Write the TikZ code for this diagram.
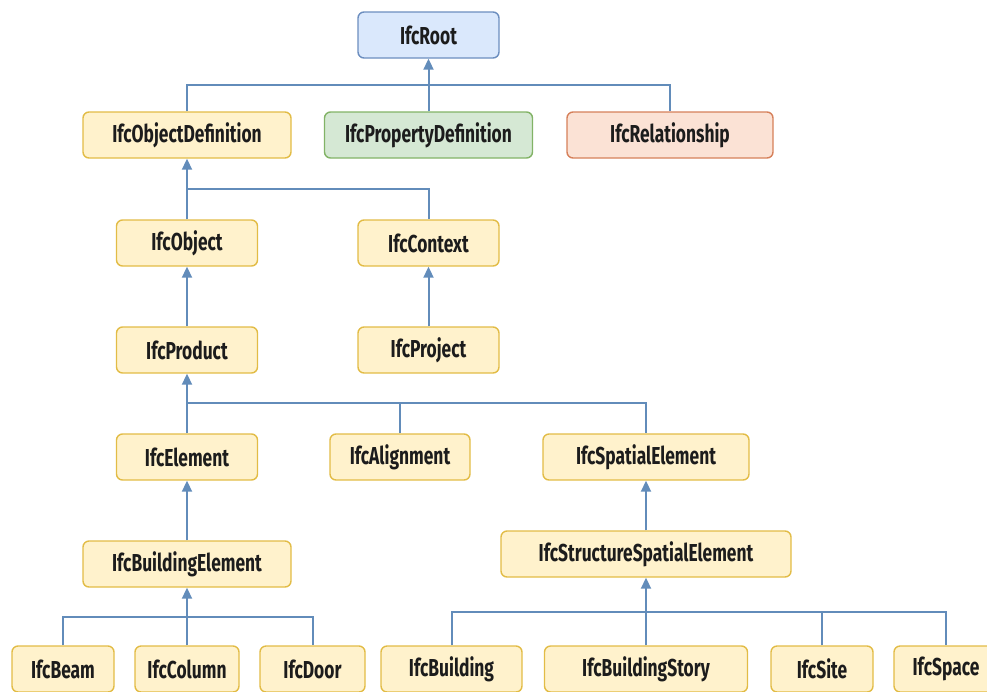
\documentclass[tikz,border=0pt]{standalone}
\usepackage{fontspec}
\newfontfamily\boxfont[FakeStretch=0.71]{Fira Sans}
\usetikzlibrary{arrows.meta}

\definecolor{linkblue}{RGB}{98,140,186}
\definecolor{ylwfill}{RGB}{255,242,204}
\definecolor{ylwdraw}{RGB}{226,188,70}
\definecolor{bluefill}{RGB}{218,232,252}
\definecolor{bluedraw}{RGB}{108,142,191}
\definecolor{grnfill}{RGB}{213,232,212}
\definecolor{grndraw}{RGB}{130,179,102}
\definecolor{redfill}{RGB}{251,226,213}
\definecolor{reddraw}{RGB}{214,128,90}
\definecolor{labeltext}{RGB}{28,28,28}

\tikzset{
  cls/.style={rounded corners=6pt, line width=1.4pt, minimum height=46pt,
    inner sep=0pt, text=labeltext,
    font=\boxfont\bfseries\fontsize{24.5}{26}\selectfont},
  ylw/.style={cls, fill=ylwfill, draw=ylwdraw},
  blu/.style={cls, fill=bluefill, draw=bluedraw},
  grn/.style={cls, fill=grnfill, draw=grndraw},
  red/.style={cls, fill=redfill, draw=reddraw},
  inh/.style={draw=linkblue, line width=2pt, -{Triangle[length=11pt,width=10pt]}},
  bus/.style={draw=linkblue, line width=2pt},
}

\begin{document}
\begin{tikzpicture}[x=1pt, y=-1pt]
\useasboundingbox (0,0) rectangle (987,691);

% class boxes
\node[blu, minimum width=141pt] (root)    at (428.5,35)  {IfcRoot};
\node[ylw, minimum width=208pt] (objdef)  at (187,135)   {IfcObjectDefinition};
\node[grn, minimum width=208pt] (propdef) at (428.5,135) {IfcPropertyDefinition};
\node[red, minimum width=206pt] (rel)     at (670,135)   {IfcRelationship};

\node[ylw, minimum width=141pt] (object)  at (187,243)   {IfcObject};
\node[ylw, minimum width=141pt] (context) at (428.5,243) {IfcContext};
\node[ylw, minimum width=141pt] (product) at (187,350)   {IfcProduct};
\node[ylw, minimum width=141pt] (project) at (428.5,350) {IfcProject};

\node[ylw, minimum width=141pt] (element) at (187,457)   {IfcElement};
\node[ylw, minimum width=140pt] (align)   at (400,457)   {IfcAlignment};
\node[ylw, minimum width=206pt] (spatial) at (646,457)   {IfcSpatialElement};

\node[ylw, minimum width=208pt] (bldgelem) at (187,564)  {IfcBuildingElement};
\node[ylw, minimum width=290pt] (struct)   at (646,554)  {IfcStructureSpatialElement};

\node[ylw, minimum width=102pt] (beam)     at (63,669)    {IfcBeam};
\node[ylw, minimum width=104pt] (column)   at (187,669)   {IfcColumn};
\node[ylw, minimum width=105pt] (door)     at (312.5,669) {IfcDoor};
\node[ylw, minimum width=141pt] (building) at (451.5,669) {IfcBuilding};
\node[ylw, minimum width=203pt] (story)    at (646,669)   {IfcBuildingStory};
\node[ylw, minimum width=102pt] (site)     at (822,669)   {IfcSite};
\node[ylw, minimum width=104pt] (space)    at (946,669)   {IfcSpace};

% bus levels
\coordinate (rootbus) at (428.5,85);
\coordinate (defbus)  at (187,189);
\coordinate (prodbus) at (187,403);
\coordinate (beltbus) at (187,617);
\coordinate (strbus)  at (646,612);

% IfcRoot subtypes
\draw[bus] (objdef.north) |- (rootbus) -| (rel.north);
\draw[inh] (propdef.north) -- (root.south);

% IfcObjectDefinition subtypes
\draw[bus] (defbus) -| (context.north);
\draw[inh] (object.north) -- (objdef.south);

% single inheritance links
\draw[inh] (product.north) -- (object.south);
\draw[inh] (project.north) -- (context.south);
\draw[inh] (bldgelem.north) -- (element.south);
\draw[inh] (struct.north) -- (spatial.south);

% IfcProduct subtypes
\draw[bus] (prodbus) -| (spatial.north);
\draw[bus] (align.north) -- (align.north |- prodbus);
\draw[inh] (element.north) -- (product.south);

% IfcBuildingElement subtypes
\draw[bus] (beam.north) |- (beltbus) -| (door.north);
\draw[inh] (column.north) -- (bldgelem.south);

% IfcStructureSpatialElement subtypes
\draw[bus] (building.north) |- (strbus) -| (space.north);
\draw[bus] (site.north) -- (site.north |- strbus);
\draw[inh] (story.north) -- (struct.south);
\end{tikzpicture}
\end{document}
